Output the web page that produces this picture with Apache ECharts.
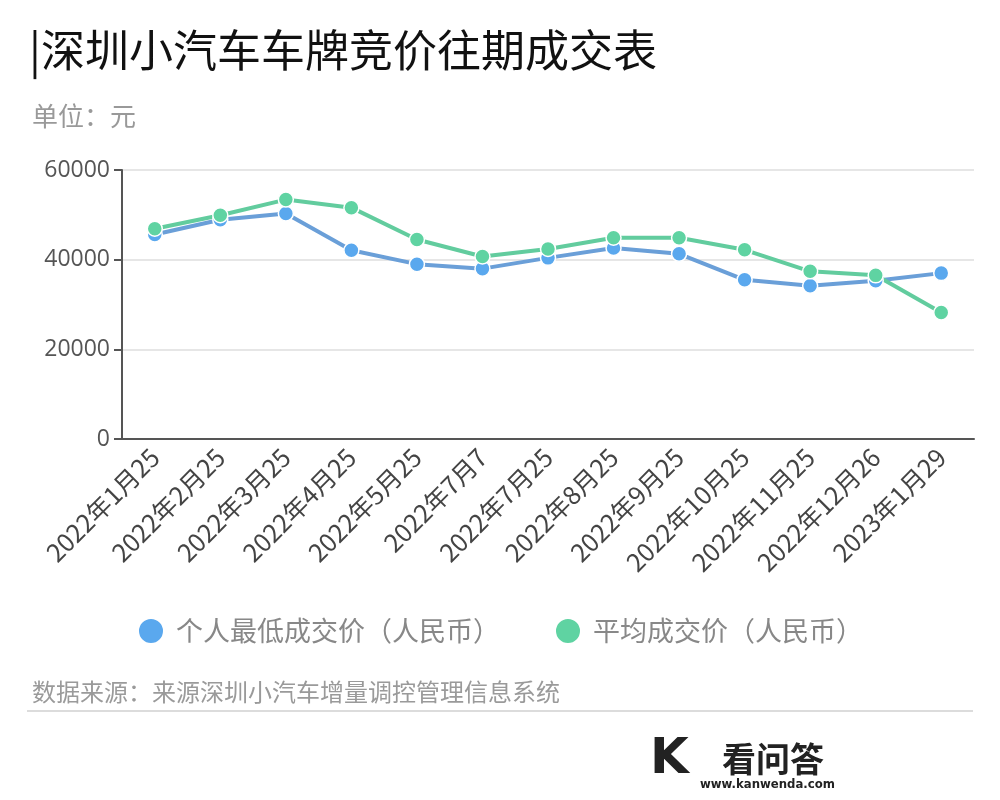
<!DOCTYPE html>
<html>
<head>
<meta charset="utf-8">
<script src="https://cdn.jsdelivr.net/npm/echarts@6/dist/echarts.min.js"></script>
<style>html,body{margin:0;padding:0;background:#fff;}#c{width:1000px;height:800px;}</style>
</head>
<body>
<div id="c"></div>
<script>
const categories = ['2022年1月25','2022年2月25','2022年3月25','2022年4月25','2022年5月25','2022年7月7','2022年7月25','2022年8月25','2022年9月25','2022年10月25','2022年11月25','2022年12月26','2023年1月29'];
const minPrice = [45600, 48900, 50300, 42100, 39000, 38000, 40400, 42600, 41300, 35500, 34200, 35300, 37000];
const avgPrice = [46900, 49900, 53400, 51600, 44500, 40700, 42400, 44900, 44900, 42200, 37400, 36500, 28200];
const yTicks = [0, 20000, 40000, 60000];
const seriesNames = ['个人最低成交价（人民币）', '平均成交价（人民币）'];

const chart = echarts.init(document.getElementById('c'));
const font = '"Noto Sans CJK SC", "Open Sans", sans-serif';
chart.setOption({
  animation: false,
  textStyle: { fontFamily: font },
  title: [
    { text: '|深圳小汽车车牌竞价往期成交表', left: 24, top: 23, textStyle: { fontSize: 44, fontWeight: 'normal', color: '#111', fontFamily: font } },
    { text: '单位：元', left: 27, top: 98, textStyle: { fontSize: 26, fontWeight: 'normal', color: '#999', fontFamily: font } },
    { text: '数据来源：来源深圳小汽车增量调控管理信息系统', left: 27, top: 675, textStyle: { fontSize: 24, fontWeight: 'normal', color: '#9a9a9a', fontFamily: font } }
  ],
  legend: {
    data: seriesNames,
    top: 612, left: 'center',
    icon: 'circle', itemWidth: 26, itemHeight: 26, itemGap: 54,
    textStyle: { fontSize: 27, color: '#888', fontFamily: font, padding: [0, 0, 0, 7] }
  },
  grid: { left: 122, right: 26, top: 170, bottom: 361 },
  xAxis: {
    type: 'category', data: categories, boundaryGap: true,
    axisLine: { lineStyle: { color: '#555', width: 2 } },
    axisTick: { alignWithLabel: true, length: 8, lineStyle: { color: '#555', width: 2 } },
    axisLabel: { rotate: 45, fontSize: 25, color: '#444', margin: 14, interval: 0, fontFamily: font }
  },
  yAxis: {
    type: 'value', min: yTicks[0], max: yTicks[yTicks.length - 1], interval: 20000,
    axisLine: { show: true, lineStyle: { color: '#555', width: 2 } },
    axisTick: { show: true, length: 8, lineStyle: { color: '#555', width: 2 } },
    axisLabel: { fontSize: 23, color: '#555', margin: 12, fontFamily: '"Open Sans", sans-serif', formatter: v => String(v) },
    splitLine: { lineStyle: { color: '#e6e6e6', width: 2 } }
  },
  series: [
    { name: seriesNames[0], type: 'line', data: minPrice, symbol: 'circle', symbolSize: 15,
      itemStyle: { color: '#5aa8ee', borderColor: '#fff', borderWidth: 1.5 },
      lineStyle: { color: '#6a9fd8', width: 4 } },
    { name: seriesNames[1], type: 'line', data: avgPrice, symbol: 'circle', symbolSize: 15,
      itemStyle: { color: '#5fd3a2', borderColor: '#fff', borderWidth: 1.5 },
      lineStyle: { color: '#62cc9e', width: 4 } }
  ],
  graphic: [
    { type: 'rect', left: 27, top: 710, shape: { width: 946, height: 2 }, style: { fill: '#dcdcdc' } },
    { type: 'text', left: 650, top: 735, style: { text: 'K', font: 'bold 50px "DejaVu Sans", sans-serif', fill: '#222' } },
    { type: 'text', left: 722, top: 742, style: { text: '看问答', font: 'bold 34px "Noto Sans CJK SC", sans-serif', fill: '#222' } },
    { type: 'text', left: 700, top: 778, style: { text: 'www.kanwenda.com', font: 'bold 13px "Liberation Sans Narrow", "DejaVu Sans Condensed", sans-serif', fill: '#222' } }
  ]
});
</script>
</body>
</html>
